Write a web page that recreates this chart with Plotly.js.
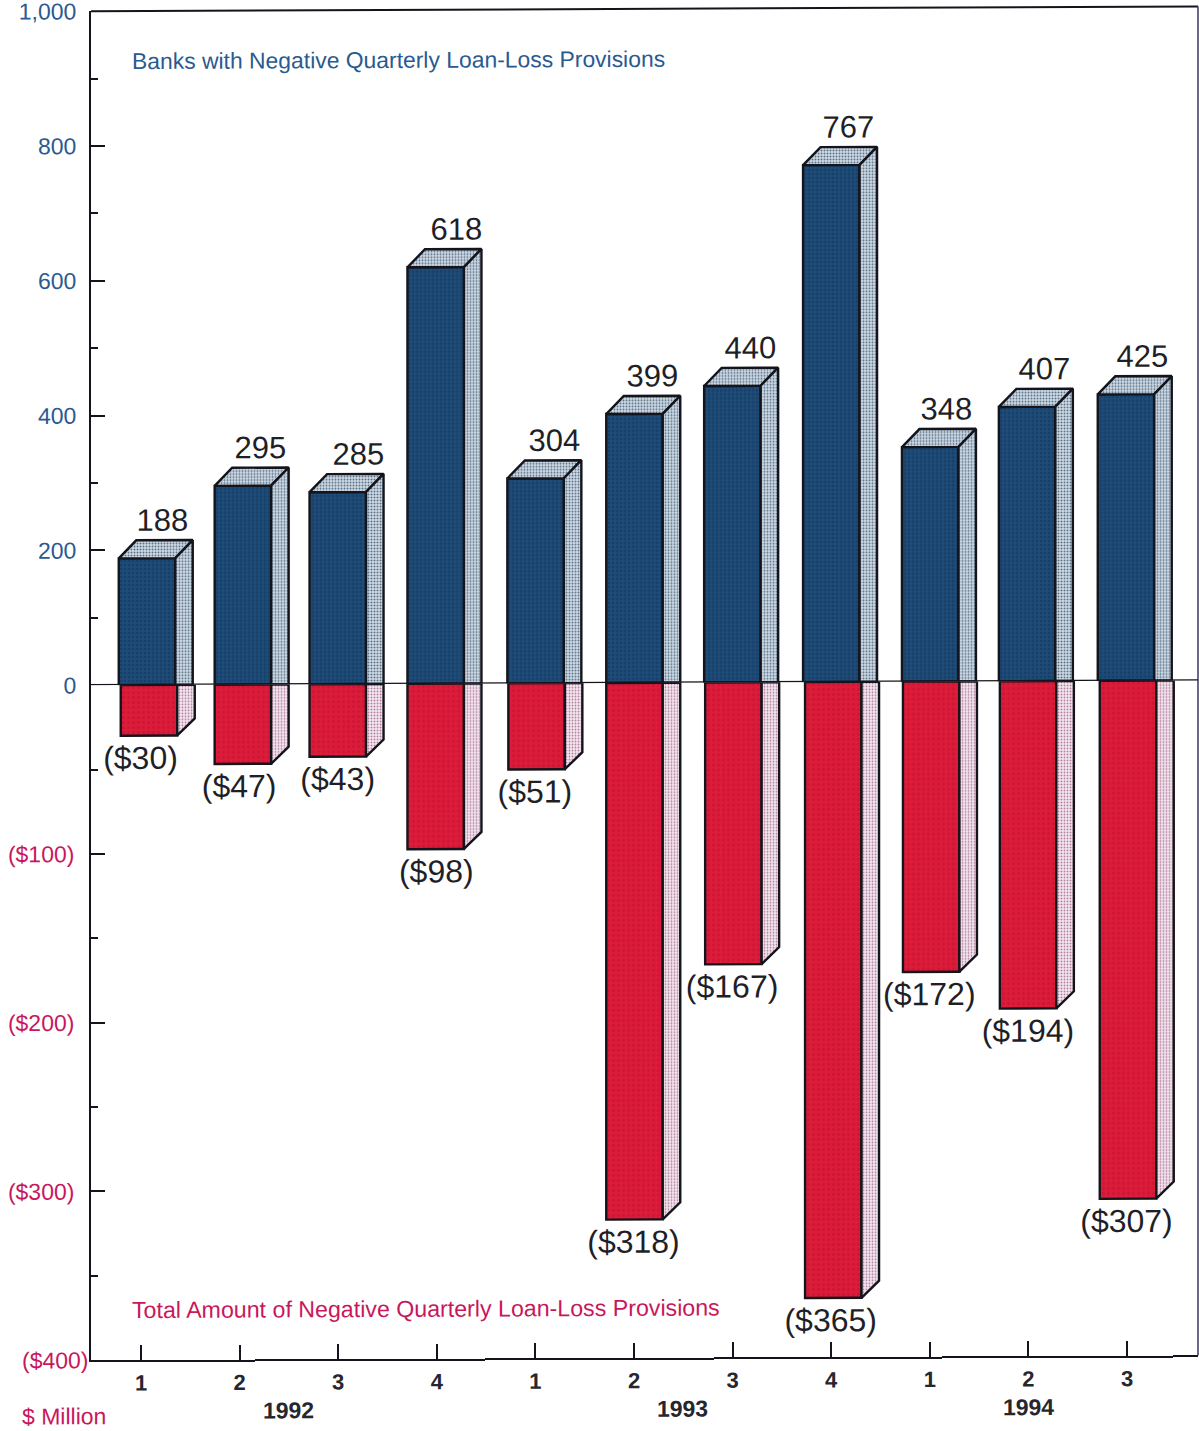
<!DOCTYPE html>
<html>
<head>
<meta charset="utf-8">
<script src="https://cdn.plot.ly/plotly-3.0.1.min.js"></script>
<style>
html,body{margin:0;padding:0;background:#fff;overflow:hidden}
#chart{width:1199px;height:1431px;transform:skewY(-0.25deg);transform-origin:600px 683px}
</style>
</head>
<body>
<div id="chart"></div>
<script>
// Data
const quarters = ['1','2','3','4','1','2','3','4','1','2','3'];
const banks = [188,295,285,618,304,399,440,767,348,407,425];
const amounts = [-30,-47,-43,-98,-51,-318,-167,-365,-172,-194,-307];
const amountLabels = ['($30)','($47)','($43)','($98)','($51)','($318)','($167)','($365)','($172)','($194)','($307)'];
const years = ['1992','1993','1994'];
const yearPositions = [1.5,5.49,9.0];
const bankTicks = [0,200,400,600,800,1000];
const bankTickLabels = ['0','200','400','600','800','1,000'];
const bankMinor = [100,300,500,700,900];
const amountTicks = [-100,-200,-300];
const amountTickLabels = ['($100)','($200)','($300)'];
const amountMinor = [-50,-150,-250,-350];

// Drawing geometry, in axis units / pixel offsets
const pxPerCat = 98.6;
const blueNudge = [1,-1,-4,-4,-2,-1,-1,0,1,0,1];
const redNudge = [3,-1,-4,-4,-1,-1,0,2,2,1,3];
const barX = (i, n) => (5 + (97.9 - 98.6) * i + n) / pxPerCat + i;
const xs = quarters.map((_, i) => barX(i, blueNudge[i]));
const xr = quarters.map((_, i) => barX(i, redNudge[i]));
const w = 56.5 / pxPerCat, dx = 17.5 / pxPerCat;
const dyTop = 18 / 0.674, dyBot = 17 / 1.6875;

function polys(fn) {
  const X = [], Y = [];
  quarters.forEach((_, i) => {
    fn(i).forEach(p => { X.push(p[0]); Y.push(p[1]); });
    X.push(null); Y.push(null);
  });
  return {x: X, y: Y};
}
const lineStyle = {color: '#14141c', width: 2.4};
const bluePattern = {shape: '.', bgcolor: '#d3dee8', fgcolor: '#566f86', size: 3, solidity: 0.4};
const pinkPattern = {shape: '.', bgcolor: '#f6ebf1', fgcolor: '#b07a9c', size: 3, solidity: 0.35};
const labelColor = '#1f1f28';

const traces = [
  {type: 'bar', x: xs, y: banks, width: w, xaxis: 'x', yaxis: 'y',
   marker: {color: '#1e4c78', line: lineStyle, pattern: {shape: '.', bgcolor: '#1e4c78', fgcolor: '#173f68', size: 4, solidity: 0.4}},
   hoverinfo: 'skip'},
  {type: 'bar', x: xr, y: amounts, width: w, xaxis: 'x', yaxis: 'y2',
   marker: {color: '#dc1c3a', line: lineStyle, pattern: {shape: '.', bgcolor: '#dc1c3a', fgcolor: '#cf1634', size: 5, solidity: 0.35}},
   hoverinfo: 'skip'},
  Object.assign({type: 'scatter', mode: 'lines', fill: 'toself', xaxis: 'x', yaxis: 'y',
    fillcolor: '#b9c8d6', fillpattern: bluePattern, line: lineStyle, hoverinfo: 'skip'},
    polys(i => {
      const l = xs[i] - w / 2, r = xs[i] + w / 2, v = banks[i];
      return [[l, v], [r, v], [r + dx, v + dyTop], [l + dx, v + dyTop], [l, v]];
    })),
  Object.assign({type: 'scatter', mode: 'lines', fill: 'toself', xaxis: 'x', yaxis: 'y',
    fillcolor: '#b9c8d6', fillpattern: bluePattern, line: lineStyle, hoverinfo: 'skip'},
    polys(i => {
      const r = xs[i] + w / 2, v = banks[i];
      return [[r, 0], [r, v], [r + dx, v + dyTop], [r + dx, 0], [r, 0]];
    })),
  Object.assign({type: 'scatter', mode: 'lines', fill: 'toself', xaxis: 'x', yaxis: 'y2',
    fillcolor: '#eed9e4', fillpattern: pinkPattern, line: lineStyle, hoverinfo: 'skip'},
    polys(i => {
      const r = xr[i] + w / 2, v = amounts[i];
      return [[r, 0], [r, v], [r + dx, v + dyBot], [r + dx, 0], [r, 0]];
    })),
  {type: 'scatter', mode: 'text', x: quarters.map((_, i) => i + (21.5 - 0.6 * i) / pxPerCat),
   y: banks.map(v => v + dyTop + 2.5), text: banks.map(String),
   textposition: 'top center', xaxis: 'x', yaxis: 'y', cliponaxis: false,
   textfont: {family: 'Liberation Sans', size: 31, color: labelColor}, hoverinfo: 'skip'},
  {type: 'scatter', mode: 'text', x: quarters.map((_, i) => i - 0.005), y: amounts.map(v => v - 5.5), text: amountLabels,
   textposition: 'bottom center', xaxis: 'x', yaxis: 'y2', cliponaxis: false,
   textfont: {family: 'Liberation Sans', size: 32, color: labelColor}, hoverinfo: 'skip'}
];

const blue = '#2a5a90', pink = '#c8185c';
const splitFrac = 675 / 1349;
const axisLine = {showline: true, linecolor: '#14141c', linewidth: 2, showgrid: false, zeroline: false};

const layout = {
  width: 1199, height: 1431,
  margin: {l: 91, r: 1, t: 9, b: 73},
  paper_bgcolor: '#ffffff', plot_bgcolor: 'rgba(0,0,0,0)',
  showlegend: false, barmode: 'overlay',
  font: {family: 'Liberation Sans'},
  xaxis: Object.assign({}, axisLine, {
    domain: [0, 1], anchor: 'y2', range: [-50 / pxPerCat, 1057 / pxPerCat],
    tickmode: 'array', tickvals: quarters.map((_, i) => i), ticktext: quarters,
    ticks: 'inside', ticklen: 15, tickwidth: 2, tickcolor: '#14141c', ticklabelstandoff: 2,
    tickfont: {family: 'Liberation Sans', size: 22, color: '#26262e', weight: 'bold'}
  }),
  yaxis: Object.assign({}, axisLine, {
    domain: [splitFrac, 1], range: [0, 1000], anchor: 'x',
    tickmode: 'array', tickvals: bankTicks, ticktext: bankTickLabels,
    ticks: 'inside', ticklen: 14, tickwidth: 2, tickcolor: '#14141c', ticklabelstandoff: 8,
    ticklabeloverflow: 'allow',
    tickfont: {family: 'Liberation Sans', size: 23, color: blue},
    minor: {tickmode: 'array', tickvals: bankMinor, ticks: 'inside', ticklen: 7, tickwidth: 2, tickcolor: '#14141c'}
  }),
  yaxis2: Object.assign({}, axisLine, {
    domain: [0, splitFrac], range: [-400, 0], anchor: 'x',
    tickmode: 'array', tickvals: amountTicks, ticktext: amountTickLabels,
    ticks: 'inside', ticklen: 14, tickwidth: 2, tickcolor: '#14141c', ticklabelstandoff: 10,
    tickfont: {family: 'Liberation Sans', size: 23, color: pink},
    minor: {tickmode: 'array', tickvals: amountMinor, ticks: 'inside', ticklen: 7, tickwidth: 2, tickcolor: '#14141c'}
  }),
  shapes: [
    {type: 'line', xref: 'paper', yref: 'paper', x0: 0, x1: 1, y0: 1, y1: 1, line: {color: '#14141c', width: 2}},
    {type: 'line', xref: 'paper', yref: 'paper', x0: 1, x1: 1, y0: 0, y1: 1, line: {color: '#3a3560', width: 1.5}},
    {type: 'line', xref: 'paper', yref: 'y', x0: 0, x1: 1, y0: 0, y1: 0, layer: 'above', line: {color: '#14141c', width: 2.5}}
  ],
  annotations: [
    {text: 'Banks with Negative Quarterly Loan-Loss Provisions', xref: 'paper', yref: 'y', x: 39 / 1107, y: 926,
     xanchor: 'left', yanchor: 'middle', showarrow: false, font: {family: 'Liberation Sans', size: 22.9, color: blue}},
    {text: 'Total Amount of Negative Quarterly Loan-Loss Provisions', xref: 'paper', yref: 'y2', x: 39 / 1107, y: -370.5,
     xanchor: 'left', yanchor: 'middle', showarrow: false, font: {family: 'Liberation Sans', size: 23.2, color: pink}},
    {text: '($400)', xref: 'paper', yref: 'y2', x: -2 / 1107, y: -400, xanchor: 'right', yanchor: 'middle', xshift: 1,
     showarrow: false, font: {family: 'Liberation Sans', size: 23, color: pink}},
    {text: '$ Million', xref: 'paper', yref: 'y2', x: -71 / 1107, y: -400, yshift: -56, xanchor: 'left', yanchor: 'middle',
     showarrow: false, font: {family: 'Liberation Sans', size: 23, color: pink}}
  ].concat(years.map((t, i) => ({
    text: t, xref: 'x', yref: 'y2', x: yearPositions[i], y: -400, yshift: -51, xanchor: 'center', yanchor: 'middle',
    showarrow: false, font: {family: 'Liberation Sans', size: 23, color: '#26262e', weight: 'bold'}
  })))
};

Plotly.newPlot('chart', traces, layout, {displayModeBar: false, staticPlot: true});
</script>
</body>
</html>
